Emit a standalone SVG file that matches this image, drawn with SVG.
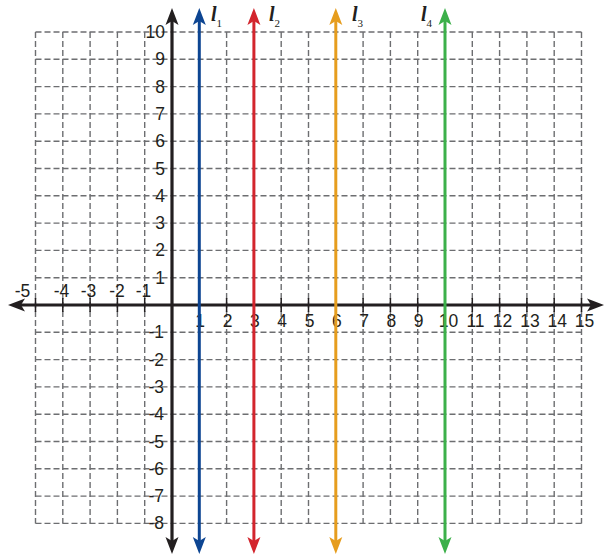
<svg xmlns="http://www.w3.org/2000/svg" width="605" height="556" viewBox="0 0 605 556">
<style>
.grid{fill:none;stroke:#6d6e71;stroke-width:1.4;stroke-dasharray:6,3}
.axis{stroke:#231f20;stroke-width:3.2;fill:none}
.tick{stroke:#231f20;stroke-width:1.5}
.num{font-family:"Liberation Sans",Arial,sans-serif;font-size:17.5px;fill:#231f20}
.xl{text-anchor:middle}
.yl{text-anchor:end}
.lab{font-family:"Liberation Serif","Times New Roman",serif;font-style:italic;font-weight:bold;font-size:20px;fill:#231f20}
.line{stroke-width:3;fill:none}
</style>
<defs>
<marker id="ak" markerUnits="userSpaceOnUse" viewBox="-8 -8 20 16" markerWidth="20" markerHeight="16" refX="0" refY="0" orient="auto-start-reverse" overflow="visible"><path d="M10,0 L-7,-6.5 L-3,0 L-7,6.5 Z" fill="#231f20"/></marker>
<marker id="ab" markerUnits="userSpaceOnUse" viewBox="-8 -8 20 16" markerWidth="20" markerHeight="16" refX="0" refY="0" orient="auto-start-reverse" overflow="visible"><path d="M10,0 L-7,-6.5 L-3,0 L-7,6.5 Z" fill="#0d4592"/></marker>
<marker id="ar" markerUnits="userSpaceOnUse" viewBox="-8 -8 20 16" markerWidth="20" markerHeight="16" refX="0" refY="0" orient="auto-start-reverse" overflow="visible"><path d="M10,0 L-7,-6.5 L-3,0 L-7,6.5 Z" fill="#d3252d"/></marker>
<marker id="ao" markerUnits="userSpaceOnUse" viewBox="-8 -8 20 16" markerWidth="20" markerHeight="16" refX="0" refY="0" orient="auto-start-reverse" overflow="visible"><path d="M10,0 L-7,-6.5 L-3,0 L-7,6.5 Z" fill="#e69d1e"/></marker>
<marker id="ag" markerUnits="userSpaceOnUse" viewBox="-8 -8 20 16" markerWidth="20" markerHeight="16" refX="0" refY="0" orient="auto-start-reverse" overflow="visible"><path d="M10,0 L-7,-6.5 L-3,0 L-7,6.5 Z" fill="#3cb04a"/></marker>
</defs>
<g id="grid">
<path class="grid" d="M35.5,32V523.4 M62.8,32V523.4 M90.1,32V523.4 M117.4,32V523.4 M144.7,32V523.4 M199.3,32V523.4 M226.6,32V523.4 M253.9,32V523.4 M281.2,32V523.4 M308.5,32V523.4 M335.8,32V523.4 M363.1,32V523.4 M390.4,32V523.4 M417.7,32V523.4 M445,32V523.4 M472.3,32V523.4 M499.6,32V523.4 M526.9,32V523.4 M554.2,32V523.4 M581.5,32V523.4"/>
<path class="grid" d="M35.5,32H581.5 M35.5,59.3H581.5 M35.5,86.6H581.5 M35.5,113.9H581.5 M35.5,141.2H581.5 M35.5,168.5H581.5 M35.5,195.8H581.5 M35.5,223.1H581.5 M35.5,250.4H581.5 M35.5,277.7H581.5 M35.5,332.3H581.5 M35.5,359.6H581.5 M35.5,386.9H581.5 M35.5,414.2H581.5 M35.5,441.5H581.5 M35.5,468.8H581.5 M35.5,496.1H581.5 M35.5,523.4H581.5"/>
</g>
<g id="ticks">
<path class="tick" d="M35.5,298V312 M62.8,298V312 M90.1,298V312 M117.4,298V312 M144.7,298V312 M199.3,298V312 M226.6,298V312 M253.9,298V312 M281.2,298V312 M308.5,298V312 M335.8,298V312 M363.1,298V312 M390.4,298V312 M417.7,298V312 M445,298V312 M472.3,298V312 M499.6,298V312 M526.9,298V312 M554.2,298V312 M581.5,298V312"/>
</g>
<g id="x-labels" class="num xl">
<text x="22.5" y="297">-5</text>
<text x="61.5" y="297">-4</text>
<text x="88.5" y="297">-3</text>
<text x="117" y="297">-2</text>
<text x="143.5" y="297">-1</text>
<text x="200" y="327">1</text>
<text x="227.6" y="327">2</text>
<text x="254.9" y="327">3</text>
<text x="282.2" y="327">4</text>
<text x="309.5" y="327">5</text>
<text x="336.8" y="327">6</text>
<text x="364.1" y="327">7</text>
<text x="391.4" y="327">8</text>
<text x="418.7" y="327">9</text>
<text x="448.5" y="327">10</text>
<text x="475.5" y="327">11</text>
<text x="502.6" y="327">12</text>
<text x="529.9" y="327">13</text>
<text x="557.2" y="327">14</text>
<text x="584.5" y="327">15</text>
</g>
<g id="y-labels" class="num yl">
<text x="165" y="38">10</text>
<text x="165" y="65.3">9</text>
<text x="165" y="92.6">8</text>
<text x="165" y="119.9">7</text>
<text x="165" y="147.2">6</text>
<text x="165" y="174.5">5</text>
<text x="165" y="201.8">4</text>
<text x="165" y="229.1">3</text>
<text x="165" y="256.4">2</text>
<text x="165" y="283.7">1</text>
<text x="164" y="338.3">-1</text>
<text x="164" y="365.6">-2</text>
<text x="164" y="392.9">-3</text>
<text x="164" y="420.2">-4</text>
<text x="164" y="447.5">-5</text>
<text x="164" y="474.8">-6</text>
<text x="164" y="502.1">-7</text>
<text x="164" y="529.4">-8</text>
</g>
<g id="connectors">
<line id="x-axis" class="axis" x1="18" y1="305" x2="594" y2="305" marker-start="url(#ak)" marker-end="url(#ak)"/>
<line id="y-axis" class="axis" x1="172" y1="18" x2="172" y2="544" marker-start="url(#ak)" marker-end="url(#ak)"/>
<line id="line-l1" class="line" stroke="#0d4592" x1="199.3" y1="18" x2="199.3" y2="544" marker-start="url(#ab)" marker-end="url(#ab)"/>
<line id="line-l2" class="line" stroke="#d3252d" x1="253.9" y1="18" x2="253.9" y2="544" marker-start="url(#ar)" marker-end="url(#ar)"/>
<line id="line-l3" class="line" stroke="#e69d1e" x1="335.8" y1="18" x2="335.8" y2="544" marker-start="url(#ao)" marker-end="url(#ao)"/>
<line id="line-l4" class="line" stroke="#3cb04a" x1="445" y1="18" x2="445" y2="544" marker-start="url(#ag)" marker-end="url(#ag)"/>
</g>
<g id="label-l1"><text class="lab" x="211" y="21">l<tspan font-size="11" font-style="normal" font-weight="normal" dy="6">1</tspan></text></g>
<g id="label-l2"><text class="lab" x="269" y="21">l<tspan font-size="11" font-style="normal" font-weight="normal" dy="6">2</tspan></text></g>
<g id="label-l3"><text class="lab" x="352" y="21">l<tspan font-size="11" font-style="normal" font-weight="normal" dy="6">3</tspan></text></g>
<g id="label-l4"><text class="lab" x="421" y="21">l<tspan font-size="11" font-style="normal" font-weight="normal" dy="6">4</tspan></text></g>
</svg>
